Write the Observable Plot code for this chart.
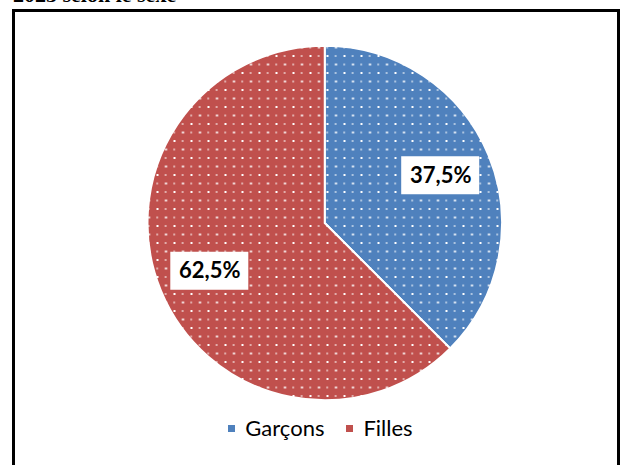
<!DOCTYPE html>
<html>
<head>
<meta charset="utf-8">
<script src="https://cdn.jsdelivr.net/npm/d3@7"></script>
<script src="https://cdn.jsdelivr.net/npm/@observablehq/plot@0.6"></script>
<style>
  html, body { margin: 0; padding: 0; background: #fff; overflow: hidden; }
  #wrap { position: relative; width: 625px; height: 465px; overflow: hidden; }
  #title { position: absolute; left: 13px; top: -16px; font-family: "Liberation Serif", serif; font-weight: bold; font-size: 22px; line-height: 22px; white-space: nowrap; color: #000; }
  #frame { position: absolute; left: 12px; top: 9px; width: 608px; height: 480px; border: 3px solid #000; box-sizing: border-box; }
  #chart { position: absolute; left: 0; top: 0; }
  #legend { position: absolute; left: 8px; width: 625px; top: 414px; text-align: center; font-family: Lato, "Open Sans", sans-serif; font-size: 22px; color: #000; }
  #legend span.item { margin: 0 11px; }
  #legend span.sw { display: inline-block; width: 7px; height: 7px; margin-right: 10px; vertical-align: 4px; }
</style>
</head>
<body>
<div id="wrap">
  <div id="title">2023 selon le sexe</div>
  <div id="frame"></div>
  <div id="chart"></div>
  <div id="legend"></div>
</div>
<script>
const categories = ["Garçons", "Filles"];
const values = [37.5, 62.5];
const labels = ["37,5%", "62,5%"];
const colors = ["#4F81BD", "#C0504D"];

const data = categories.map((c, i) => ({category: c, value: values[i], label: labels[i], color: colors[i]}));
const arcs = d3.pie().sort(null).value(d => d.value)(data);
const labelPos = arcs.map(a => {
  const mid = (a.startAngle + a.endAngle) / 2;
  return {label: a.data.label, x: 0.705 * Math.sin(mid), y: 0.705 * Math.cos(mid)};
});

function pieMark(index, scales, vals, dims) {
  const cx = scales.x(0), cy = scales.y(0), r = scales.x(1) - cx;
  const g = d3.create("svg:g");
  const defs = g.append("defs");
  data.forEach((d, i) => {
    const p = defs.append("pattern").attr("id", "pat" + i)
      .attr("patternUnits", "userSpaceOnUse").attr("width", 17).attr("height", 17)
      .attr("x", cx).attr("y", cy);
    p.append("rect").attr("width", 17).attr("height", 17).attr("fill", d.color);
    p.append("rect").attr("x", 0).attr("y", 0).attr("width", 2).attr("height", 2).attr("fill", "#fff");
    p.append("rect").attr("x", 8.5).attr("y", 8.5).attr("width", 2).attr("height", 2).attr("fill", "#fff");
    p.append("rect").attr("x", 8.5).attr("y", 0).attr("width", 1.3).attr("height", 2).attr("fill", "#fff").attr("opacity", 0.8);
    p.append("rect").attr("x", 0).attr("y", 8.5).attr("width", 1.3).attr("height", 2).attr("fill", "#fff").attr("opacity", 0.8);
  });
  const arc = d3.arc().innerRadius(0).outerRadius(r);
  g.append("g").attr("transform", `translate(${cx},${cy})`)
    .selectAll("path").data(arcs).join("path")
    .attr("d", arc)
    .attr("fill", (d, i) => `url(#pat${i})`)
    .attr("stroke", "#fff").attr("stroke-width", 2);
  g.append("g").selectAll("rect").data(labelPos).join("rect")
    .attr("x", d => scales.x(d.x) - 39).attr("y", d => scales.y(d.y) - 19)
    .attr("width", 78).attr("height", 38).attr("fill", "#fff");
  return g.node();
}

const plot = Plot.plot({
  width: 625,
  height: 465,
  margin: 0,
  x: {domain: [-1, 1], range: [147.5, 502], axis: null},
  y: {domain: [-1, 1], range: [400, 46], axis: null},
  style: {background: "transparent"},
  marks: [
    pieMark,
    Plot.text(labelPos, {x: "x", y: "y", text: "label", fontSize: 22, fontWeight: "bold", fontFamily: "Lato, 'Open Sans', sans-serif", fill: "#000"})
  ]
});
document.getElementById("chart").appendChild(plot);

const legend = d3.select("#legend");
data.forEach(d => {
  const item = legend.append("span").attr("class", "item");
  item.append("span").attr("class", "sw").style("background", d.color);
  item.append("span").text(d.category);
});
</script>
</body>
</html>
